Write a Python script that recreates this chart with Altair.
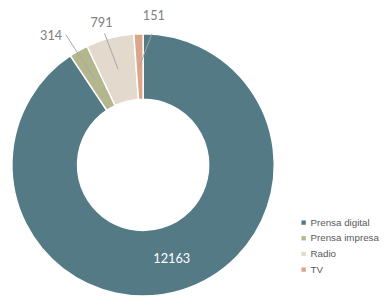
import altair as alt
import pandas as pd
import numpy as np

categories = ["Prensa digital", "Prensa impresa", "Radio", "TV"]
values = [12163, 314, 791, 151]
colors = ["#547a86", "#b4b78e", "#e3d9cc", "#dca68b"]

# annotation styling (page-pixel nudges for outer labels)
leader_nudge = {"Prensa impresa": (-10, -11), "Radio": (-4, 1), "TV": (14, 6)}
text_offset = {"Prensa impresa": (-15, 1), "Radio": (-3, -10), "TV": (2, -18)}

CX, CY = 138, 157          # donut centre within the chart
R_OUT, R_IN = 134, 67
R_MID, R_END = 101, 140

df = pd.DataFrame({"cat": categories, "val": values, "order": list(range(len(values)))})
df["inner"] = [str(v) if i == 0 else "" for i, v in enumerate(values)]

total = df["val"].sum()
mid = ((df["val"].cumsum() - df["val"]) + df["val"] / 2) / total * 2 * np.pi
df["sx"] = R_MID * np.sin(mid)
df["sy"] = R_MID * np.cos(mid)
ex, ey, tx, ty = [], [], [], []
for c, m in zip(df["cat"], mid):
    ndx, ndy = leader_nudge.get(c, (0, 0))
    tdx, tdy = text_offset.get(c, (0, 0))
    x_end = R_END * np.sin(m) + ndx
    y_end = R_END * np.cos(m) - ndy
    ex.append(x_end); ey.append(y_end)
    tx.append(x_end + tdx); ty.append(y_end - tdy)
df["ex"], df["ey"], df["tx"], df["ty"] = ex, ey, tx, ty

outer = df[df["cat"] != categories[0]].copy()
outer["lbl"] = outer["val"].astype(str)

color = alt.Color(
    "cat:N",
    scale=alt.Scale(domain=categories, range=colors),
    legend=alt.Legend(
        orient="none", legendX=297, legendY=211, title=None,
        symbolType="square", symbolSize=20, symbolStrokeWidth=0,
        labelFontSize=10, labelColor="#595959", labelFont="Liberation Sans",
        rowPadding=6, labelOffset=2,
    ),
)

base = alt.Chart(df)
arcs = base.mark_arc(radius=R_OUT, radius2=R_IN, stroke="white", strokeWidth=1.5).encode(
    theta=alt.Theta("val:Q", stack=True),
    color=color,
    order=alt.Order("order:Q"),
    x=alt.value(CX), y=alt.value(CY),
)
inner_txt = base.mark_text(radius=R_MID, font="Lato", fontSize=13, color="white").encode(
    theta=alt.Theta("val:Q", stack=True),
    order=alt.Order("order:Q"),
    text="inner:N",
    x=alt.value(CX), y=alt.value(CY),
)

xs = alt.Scale(domain=[-CX, 380 - CX], nice=False, zero=False)
ys = alt.Scale(domain=[CY - 300, CY], nice=False, zero=False)

leaders = alt.Chart(outer).mark_rule(color="#a6a6a6", strokeWidth=1).encode(
    x=alt.X("sx:Q", scale=xs, axis=None),
    y=alt.Y("sy:Q", scale=ys, axis=None),
    x2="ex:Q", y2="ey:Q",
)
labels = alt.Chart(outer).mark_text(font="Lato", fontSize=13, color="#808080").encode(
    x=alt.X("tx:Q", scale=xs, axis=None),
    y=alt.Y("ty:Q", scale=ys, axis=None),
    text="lbl:N",
)

chart = alt.layer(arcs, inner_txt, leaders, labels).properties(
    width=380, height=300, autosize=alt.AutoSizeParams(type="none"), padding=0
).configure_view(stroke=None)

chart.save("out.html", embed_options={"renderer": "svg", "actions": False})
